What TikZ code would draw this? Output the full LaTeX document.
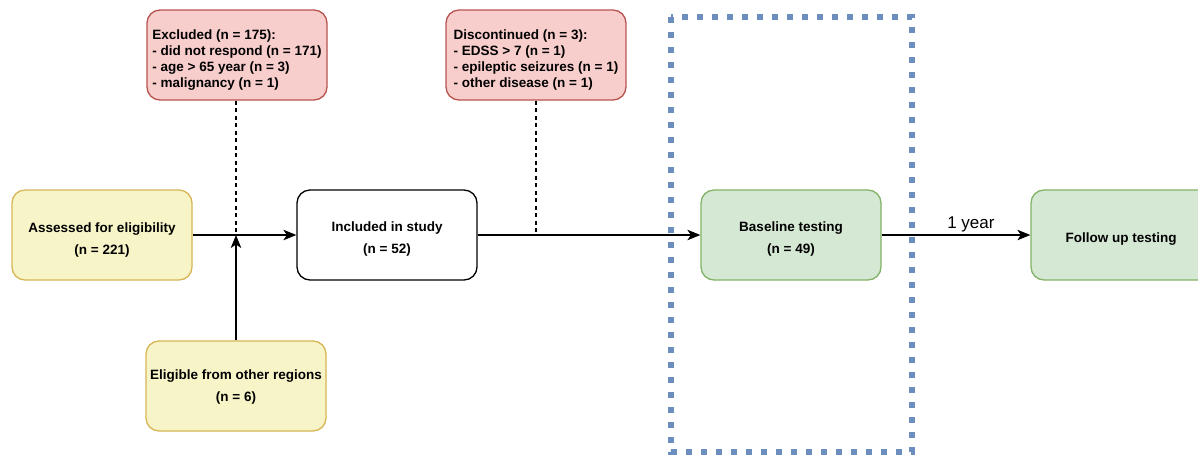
\documentclass[tikz,border=0pt]{standalone}
\usepackage{fontspec}
\setmainfont{Liberation Sans}
\usetikzlibrary{arrows.meta}
\definecolor{redfill}{HTML}{F8CECC}
\definecolor{redline}{HTML}{B85450}
\definecolor{yelfill}{HTML}{F7F4C8}
\definecolor{yelline}{HTML}{D6B656}
\definecolor{grnfill}{HTML}{D5E8D4}
\definecolor{grnline}{HTML}{82B366}
\definecolor{dotblue}{HTML}{6C8EBF}
\tikzset{
  box/.style={draw, line width=1.3pt, rounded corners=13pt, minimum width=180pt, minimum height=90pt,
    inner sep=0pt},
  boxtext/.style={inner sep=0pt, font=\fontsize{13.5}{16}\selectfont\bfseries, align=center},
  redtext/.style={boxtext, align=left},
  redbox/.style={box, fill=redfill, draw=redline},
  yelbox/.style={box, fill=yelfill, draw=yelline},
  grnbox/.style={box, fill=grnfill, draw=grnline},
  whitebox/.style={box, fill=white, draw=black},
  flow/.style={line width=1.2pt, -{Stealth[length=13pt,width=10.5pt,inset=3.5pt]}},
  dashline/.style={line width=1.1pt, dash pattern=on 4pt off 3.5pt},
  dotframe/.style={draw=dotblue, line width=6pt, dash pattern=on 6pt off 9pt}
}
\begin{document}
\begin{tikzpicture}[x=1pt,y=-1pt]
\useasboundingbox (0,0) rectangle (1198,456);
\fill[white] (0,0) rectangle (1198,456);
\draw[dotframe] (671,17) rectangle (912,452);

\node[redbox, label={[redtext,yshift=-5pt]center:{Excluded (n = 175):\\- did not respond (n = 171)\\- age > 65 year (n = 3)\\- malignancy (n = 1)}}] (excl) at (237,55) {};
\node[redbox, label={[redtext,yshift=-5pt]center:{Discontinued (n = 3):\\- EDSS > 7 (n = 1)\\- epileptic seizures (n = 1)\\- other disease (n = 1)}}] (disc) at (536,55) {};
\node[yelbox, label={[boxtext,yshift=-5pt]center:{Assessed for eligibility\\[6pt](n = 221)}}] (assess) at (102,235) {};
\node[whitebox, label={[boxtext,yshift=-4pt]center:{Included in study\\[6pt](n = 52)}}] (incl) at (387,235) {};
\node[grnbox, label={[boxtext,yshift=-4pt]center:{Baseline testing\\[6pt](n = 49)}}] (base) at (791,235) {};
\node[grnbox, label={[boxtext,yshift=-4pt]center:{Follow up testing}}] (follow) at (1121,235) {};
\node[yelbox, label={[boxtext,yshift=-1pt]center:{Eligible from other regions\\[6pt](n = 6)}}] (elig) at (236,386) {};

\coordinate (j1) at (236,235);
\coordinate (j2) at (536,235);

\draw[flow] (assess.east) -- (incl.west);
\draw[flow] (elig.north) -- (j1);
\draw[dashline] (excl.south -| j1) -- (j1);
\draw[flow] (incl.east) -- (base.west);
\draw[dashline] (disc.south) -- (j2);
\draw[flow] (base.east) -- node[pos=0.6, above=-1pt, font=\fontsize{17}{20}\selectfont] {1 year} (follow.west);
\end{tikzpicture}
\end{document}
